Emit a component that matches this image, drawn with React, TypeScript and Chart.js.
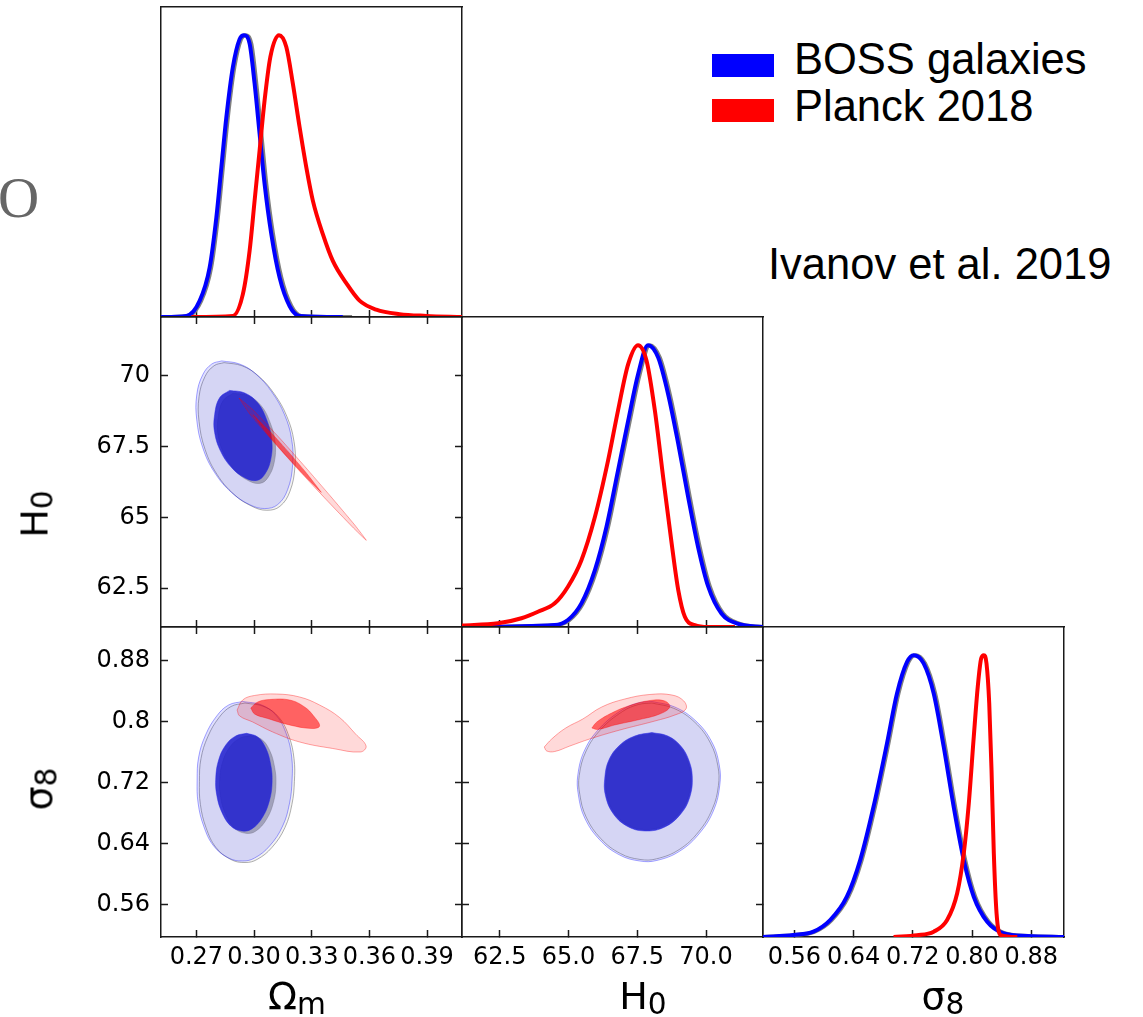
import React, { useEffect, useRef } from "react";
import { Chart, registerables } from "chart.js";

Chart.register(...registerables);

type Pt = [number, number];

// ---------- axis ranges & ticks ----------
const omRange: [number, number] = [0.2516, 0.4082];
const h0Range: [number, number] = [61.13, 72.07];
const s8Range: [number, number] = [0.5176, 0.9242];
const pdfRange: [number, number] = [0, 1.1];

const omTicks = [0.27, 0.3, 0.33, 0.36, 0.39];
const omTickLabels = ["0.27", "0.30", "0.33", "0.36", "0.39"];
const h0Ticks = [62.5, 65, 67.5, 70];
const h0TickLabelsX = ["62.5", "65.0", "67.5", "70.0"];
const h0TickLabelsY = ["62.5", "65", "67.5", "70"];
const s8Ticks = [0.56, 0.64, 0.72, 0.8, 0.88];
const s8TickLabelsX = ["0.56", "0.64", "0.72", "0.80", "0.88"];
const s8TickLabelsY = ["0.56", "0.64", "0.72", "0.8", "0.88"];

const seriesNames = ["BOSS galaxies", "Planck 2018"];

// ---------- 1D marginals ----------
const omGridBoss = [0.2516, 0.2648, 0.2717, 0.2769, 0.2804, 0.283, 0.2856, 0.289, 0.2925, 0.2948, 0.2977, 0.3003, 0.3029, 0.3055, 0.309, 0.3133, 0.3185, 0.3237, 0.3462];
const omPdfBoss = [0, 0.004, 0.057, 0.175, 0.353, 0.531, 0.709, 0.887, 0.986, 1.0, 0.97, 0.828, 0.65, 0.472, 0.294, 0.14, 0.039, 0.004, 0];
const omGridGray = [0.2516, 0.2655, 0.2725, 0.2777, 0.2812, 0.2838, 0.2864, 0.2898, 0.2933, 0.2956, 0.2986, 0.3012, 0.3038, 0.3064, 0.3099, 0.3142, 0.3194, 0.3246, 0.351];
const omPdfGray = [0, 0.004, 0.057, 0.175, 0.353, 0.531, 0.709, 0.887, 0.986, 1.0, 0.97, 0.828, 0.65, 0.472, 0.294, 0.14, 0.039, 0.004, 0];
const omGridPlanck = [0.2674, 0.289, 0.2942, 0.2977, 0.3003, 0.3029, 0.3055, 0.3085, 0.313, 0.3168, 0.3202, 0.3237, 0.3272, 0.3306, 0.3358, 0.341, 0.348, 0.3549, 0.3636, 0.3757, 0.3896, 0.4082];
const omPdfPlanck = [0, 0.004, 0.081, 0.235, 0.413, 0.591, 0.769, 0.923, 1.0, 0.958, 0.828, 0.674, 0.531, 0.413, 0.294, 0.199, 0.12, 0.058, 0.026, 0.01, 0.004, 0];

const h0GridBoss = [61.13, 64.5, 64.98, 65.47, 65.96, 66.38, 66.8, 67.17, 67.53, 67.89, 68.26, 68.62, 68.99, 69.35, 69.71, 70.08, 70.56, 71.17, 72.07];
const h0PdfBoss = [0, 0.007, 0.025, 0.084, 0.202, 0.355, 0.555, 0.732, 0.897, 1.0, 0.956, 0.827, 0.65, 0.461, 0.284, 0.143, 0.048, 0.011, 0];
const h0GridGray = [61.13, 64.56, 65.04, 65.53, 66.02, 66.44, 66.86, 67.23, 67.59, 67.95, 68.32, 68.68, 69.05, 69.41, 69.77, 70.14, 70.62, 71.23, 72.07];
const h0PdfGray = [0, 0.007, 0.025, 0.084, 0.202, 0.355, 0.555, 0.732, 0.897, 1.0, 0.956, 0.827, 0.65, 0.461, 0.284, 0.143, 0.048, 0.011, 0];
const h0GridPlanck = [61.13, 62.44, 63.29, 63.89, 64.5, 64.98, 65.47, 65.96, 66.44, 66.8, 67.17, 67.53, 67.84, 68.14, 68.44, 68.75, 68.99, 69.23, 69.59, 70.08, 71.05];
const h0PdfPlanck = [0.005, 0.013, 0.031, 0.054, 0.084, 0.143, 0.237, 0.39, 0.591, 0.768, 0.933, 1.0, 0.944, 0.768, 0.532, 0.296, 0.131, 0.036, 0.007, 0, 0];

const s8GridBoss = [0.5176, 0.5586, 0.5857, 0.6083, 0.6309, 0.6489, 0.6669, 0.6851, 0.6986, 0.7122, 0.7211, 0.7346, 0.7482, 0.7617, 0.7752, 0.7888, 0.8023, 0.8205, 0.8429, 0.8746, 0.9242];
const s8PdfBoss = [0, 0.007, 0.019, 0.06, 0.143, 0.273, 0.462, 0.687, 0.864, 0.976, 1.0, 0.971, 0.864, 0.675, 0.462, 0.273, 0.143, 0.054, 0.013, 0.004, 0];
const s8GridGray = [0.5176, 0.5606, 0.5877, 0.6103, 0.6329, 0.6509, 0.6689, 0.6871, 0.7006, 0.7142, 0.7231, 0.7366, 0.7502, 0.7637, 0.7772, 0.7908, 0.8043, 0.8225, 0.8449, 0.8766, 0.9242];
const s8PdfGray = [0, 0.007, 0.019, 0.06, 0.143, 0.273, 0.462, 0.687, 0.864, 0.976, 1.0, 0.971, 0.864, 0.675, 0.462, 0.273, 0.143, 0.054, 0.013, 0.004, 0];
const s8GridPlanck = [0.694, 0.7257, 0.7482, 0.7663, 0.7799, 0.7888, 0.7956, 0.8023, 0.8077, 0.8123, 0.8159, 0.8195, 0.8232, 0.8263, 0.8294, 0.8331, 0.8385, 0.8611];
const s8PdfPlanck = [0, 0.006, 0.019, 0.06, 0.155, 0.297, 0.474, 0.71, 0.888, 0.988, 1.0, 0.971, 0.829, 0.592, 0.297, 0.084, 0.007, 0];

// ---------- 2D contours: Omega_m vs H0 ----------
const omH0BossOuter: Pt[] = [[0.2832, 70.52], [0.2925, 70.41], [0.3009, 70.06], [0.3092, 69.43], [0.3159, 68.62], [0.3196, 67.74], [0.3201, 66.86], [0.3175, 65.98], [0.3123, 65.45], [0.3055, 65.31], [0.2977, 65.45], [0.2884, 65.87], [0.2795, 66.58], [0.2733, 67.46], [0.2702, 68.44], [0.2702, 69.32], [0.2733, 70.03], [0.278, 70.41]];
const omH0GrayOuter: Pt[] = [[0.2844, 70.46], [0.2937, 70.35], [0.3021, 70.0], [0.3104, 69.37], [0.3171, 68.56], [0.3208, 67.68], [0.3213, 66.8], [0.3187, 65.92], [0.3135, 65.39], [0.3067, 65.25], [0.2989, 65.39], [0.2896, 65.81], [0.2807, 66.52], [0.2745, 67.4], [0.2714, 68.38], [0.2714, 69.26], [0.2745, 69.97], [0.2792, 70.35]];
const omH0BossInner: Pt[] = [[0.2873, 69.48], [0.2951, 69.39], [0.3019, 69.04], [0.3066, 68.44], [0.3092, 67.74], [0.3087, 67.04], [0.3055, 66.51], [0.3014, 66.3], [0.2951, 66.4], [0.2884, 66.75], [0.2827, 67.32], [0.2795, 67.99], [0.2795, 68.62], [0.2821, 69.22]];
const omH0GrayInner: Pt[] = [[0.2891, 69.38], [0.2969, 69.29], [0.3037, 68.94], [0.3084, 68.34], [0.311, 67.64], [0.3105, 66.94], [0.3073, 66.41], [0.3032, 66.2], [0.2969, 66.3], [0.2902, 66.65], [0.2845, 67.22], [0.2813, 67.89], [0.2813, 68.52], [0.2839, 69.12]];
const omH0PlanckOuter: Pt[] = [[0.2922, 69.21], [0.2998, 68.77], [0.3134, 67.79], [0.3266, 66.78], [0.3396, 65.76], [0.3524, 64.73], [0.3584, 64.19], [0.3512, 64.66], [0.3375, 65.63], [0.3239, 66.62], [0.3107, 67.62], [0.2978, 68.65]];
const omH0PlanckInner: Pt[] = [[0.2994, 68.62], [0.309, 67.98], [0.318, 67.3], [0.3267, 66.61], [0.335, 65.88], [0.3255, 66.53], [0.3164, 67.2], [0.3076, 67.89]];

// ---------- 2D contours: Omega_m vs sigma8 ----------
const omS8BossOuter: Pt[] = [[0.2941, 0.8265], [0.304, 0.8219], [0.3118, 0.8075], [0.317, 0.7826], [0.3196, 0.7537], [0.3198, 0.7235], [0.3185, 0.6934], [0.3149, 0.6632], [0.3081, 0.637], [0.3003, 0.6212], [0.2941, 0.6173], [0.2868, 0.6212], [0.279, 0.637], [0.2738, 0.6632], [0.2709, 0.6934], [0.2704, 0.7235], [0.2712, 0.7537], [0.2748, 0.7826], [0.2806, 0.8075], [0.2868, 0.8219]];
const omS8GrayOuter: Pt[] = [[0.2953, 0.8245], [0.3052, 0.8199], [0.313, 0.8055], [0.3182, 0.7806], [0.3208, 0.7517], [0.321, 0.7215], [0.3197, 0.6914], [0.3161, 0.6612], [0.3093, 0.635], [0.3015, 0.6192], [0.2953, 0.6153], [0.288, 0.6192], [0.2802, 0.635], [0.275, 0.6612], [0.2721, 0.6914], [0.2716, 0.7215], [0.2724, 0.7517], [0.276, 0.7806], [0.2818, 0.8055], [0.288, 0.8199]];
const omS8BossInner: Pt[] = [[0.2962, 0.7848], [0.3019, 0.7799], [0.3061, 0.7655], [0.3087, 0.7432], [0.3094, 0.7209], [0.3081, 0.6973], [0.3045, 0.675], [0.2988, 0.6593], [0.2936, 0.6567], [0.2879, 0.6632], [0.2832, 0.6816], [0.2806, 0.7039], [0.2801, 0.7262], [0.2816, 0.7498], [0.2853, 0.7694], [0.2905, 0.7812]];
const omS8GrayInner: Pt[] = [[0.2982, 0.7818], [0.3039, 0.7769], [0.3081, 0.7625], [0.3107, 0.7402], [0.3114, 0.7179], [0.3101, 0.6943], [0.3065, 0.672], [0.3008, 0.6563], [0.2956, 0.6537], [0.2899, 0.6602], [0.2852, 0.6786], [0.2826, 0.7009], [0.2821, 0.7232], [0.2836, 0.7468], [0.2873, 0.7664], [0.2925, 0.7782]];
const omS8PlanckOuter: Pt[] = [[0.2912, 0.8153], [0.2941, 0.8285], [0.3003, 0.8344], [0.3118, 0.8363], [0.3237, 0.8324], [0.3341, 0.8219], [0.3445, 0.8055], [0.3528, 0.7839], [0.3583, 0.7681], [0.3554, 0.7603], [0.3409, 0.7649], [0.3237, 0.7734], [0.3097, 0.7865], [0.2993, 0.7996], [0.2925, 0.8075]];
const omS8PlanckInner: Pt[] = [[0.2983, 0.818], [0.3019, 0.8258], [0.3081, 0.8291], [0.3185, 0.8285], [0.3263, 0.8193], [0.331, 0.8075], [0.3341, 0.7944], [0.33, 0.7911], [0.3185, 0.7957], [0.3071, 0.8042], [0.3003, 0.8101]];

// ---------- 2D contours: H0 vs sigma8 ----------
const h0S8BossOuter: Pt[] = [[68.03, 0.8265], [68.86, 0.8193], [69.63, 0.8009], [70.21, 0.7734], [70.48, 0.7432], [70.5, 0.717], [70.28, 0.6842], [69.77, 0.654], [69.05, 0.6304], [68.21, 0.618], [67.59, 0.6173], [66.86, 0.6252], [66.14, 0.6449], [65.59, 0.6737], [65.36, 0.7039], [65.34, 0.7301], [65.59, 0.7629], [66.14, 0.7917], [66.94, 0.8153], [67.52, 0.8245]];
const h0S8GrayOuter: Pt[] = [[68.03, 0.8245], [68.83, 0.8175], [69.59, 0.7993], [70.16, 0.772], [70.43, 0.742], [70.45, 0.7162], [70.23, 0.6856], [69.73, 0.6556], [69.02, 0.6322], [68.19, 0.62], [67.6, 0.6193], [66.89, 0.627], [66.18, 0.6465], [65.64, 0.6751], [65.41, 0.7049], [65.39, 0.7293], [65.64, 0.7615], [66.18, 0.7901], [66.97, 0.8135], [67.54, 0.8225]];
const h0S8BossInner: Pt[] = [[68.03, 0.7858], [68.61, 0.7812], [69.08, 0.7681], [69.37, 0.7498], [69.5, 0.7275], [69.41, 0.7012], [69.08, 0.679], [68.5, 0.6619], [67.77, 0.6567], [67.12, 0.6632], [66.61, 0.6803], [66.34, 0.7039], [66.32, 0.7262], [66.47, 0.7498], [66.87, 0.7694], [67.41, 0.7812]];
const h0S8GrayInner: Pt[] = [[68.02, 0.784], [68.58, 0.7796], [69.04, 0.7669], [69.32, 0.749], [69.45, 0.7273], [69.36, 0.702], [69.04, 0.6806], [68.47, 0.6637], [67.78, 0.6585], [67.15, 0.6648], [66.65, 0.6815], [66.39, 0.7045], [66.37, 0.7262], [66.51, 0.749], [66.9, 0.768], [67.43, 0.7796]];
const h0S8PlanckOuter: Pt[] = [[64.12, 0.7668], [64.39, 0.7773], [64.9, 0.7917], [65.52, 0.8035], [66.21, 0.8193], [67.05, 0.8298], [67.96, 0.8357], [68.76, 0.835], [69.19, 0.8272], [69.27, 0.8167], [68.87, 0.8088], [68.14, 0.8009], [66.87, 0.7891], [65.77, 0.7773], [65.05, 0.7681], [64.5, 0.7609], [64.21, 0.7616]];
const h0S8PlanckInner: Pt[] = [[65.85, 0.7917], [66.03, 0.7996], [66.57, 0.8114], [67.23, 0.8212], [67.96, 0.8278], [68.5, 0.8272], [68.68, 0.8193], [68.32, 0.8101], [67.59, 0.8029], [66.68, 0.7957], [66.07, 0.7898]];

// ---------- styling ----------
const FONT = "'DejaVu Sans', 'Noto Sans', sans-serif";
const SANS = "'Liberation Sans', Arial, sans-serif";
const INK = "#1a1a1a";
const BLUE = "#0000ff";
const RED = "#ff0000";
const GRAY = "#808080";
const LINE_W = 4;

const PANEL_W = 301;
const PANEL_H = 310;
const COL_LEFT = [161, 462, 763];
const ROW_TOP = [7, 317, 627];
const PAD = { l: 150, r: 12, t: 12, b: 50 };

type AxisOpts = { marks: boolean; labels: boolean; size: number; padding?: number };

function axis(position: string, range: [number, number], ticks: number[], labels: string[], o: AxisOpts) {
  const horizontal = position === "top" || position === "bottom";
  return {
    type: "linear",
    position,
    axis: horizontal ? "x" : "y",
    min: range[0],
    max: range[1],
    afterBuildTicks: (s: any) => {
      s.ticks = ticks.map((v) => ({ value: v }));
    },
    afterFit: (s: any) => {
      if (horizontal) s.height = o.size;
      else s.width = o.size;
      s.paddingLeft = 0;
      s.paddingRight = 0;
      s.paddingTop = 0;
      s.paddingBottom = 0;
    },
    grid: {
      display: true,
      drawOnChartArea: false,
      drawTicks: o.marks,
      tickLength: -7,
      tickWidth: 1.5,
      tickColor: INK,
      color: INK,
    },
    border: { display: true, color: INK, width: 1.5 },
    ticks: {
      display: o.labels,
      autoSkip: false,
      maxRotation: 0,
      minRotation: 0,
      padding: o.padding ?? 0,
      color: "#000",
      font: { family: FONT, size: 24 },
      callback: (_v: any, i: number) => labels[i] ?? "",
    },
  };
}

function curve(xs: number[], ys: number[], color: string, width: number) {
  return {
    data: xs.map((x, i) => ({ x, y: ys[i] })),
    borderColor: color,
    borderWidth: width,
    pointRadius: 0,
    fill: false,
    cubicInterpolationMode: "monotone",
    xAxisID: "x",
    yAxisID: "y",
  };
}

function region(pts: Pt[], fillColor: string, lineColor: string, tension = 0.4) {
  const closed = [...pts, pts[0]];
  return {
    data: closed.map(([x, y]) => ({ x, y })),
    backgroundColor: fillColor,
    borderColor: lineColor,
    borderWidth: 1,
    pointRadius: 0,
    fill: "shape",
    tension,
    xAxisID: "x",
    yAxisID: "y",
  };
}

const LBL_PAD_LEFT = 18;
const LBL_PAD_BOTTOM = 13;

function contours(
  bossOuter: Pt[], grayOuter: Pt[], bossInner: Pt[], grayInner: Pt[], planckOuter: Pt[], planckInner: Pt[], planckTension = 0.4
) {
  // first dataset is drawn on top
  return [
    region(planckInner, "rgba(255,0,0,0.55)", "rgba(255,0,0,0.35)", planckTension),
    region(planckOuter, "rgba(255,0,0,0.15)", "rgba(255,0,0,0.35)", planckTension),
    region(bossInner, "rgba(32,32,207,0.85)", "rgba(40,40,230,0.5)"),
    region(grayInner, "rgba(110,110,130,0.5)", "rgba(110,110,130,0.4)"),
    region(bossOuter, "rgba(0,0,255,0.12)", "rgba(0,0,255,0.35)"),
    region(grayOuter, "rgba(128,128,128,0.1)", "rgba(110,110,110,0.55)"),
  ];
}

type PanelDef = { col: number; row: number; scales: () => any; datasets: () => any[] };

const panels: PanelDef[] = [
  {
    col: 0, row: 0,
    scales: () => ({
      x: axis("bottom", omRange, omTicks, omTickLabels, { marks: true, labels: false, size: PAD.b }),
      x2: axis("top", omRange, [], [], { marks: false, labels: false, size: PAD.t }),
      y: axis("left", pdfRange, [], [], { marks: false, labels: false, size: PAD.l }),
      y2: axis("right", pdfRange, [], [], { marks: false, labels: false, size: PAD.r }),
    }),
    datasets: () => [
      curve(omGridPlanck, omPdfPlanck, RED, LINE_W),
      curve(omGridBoss, omPdfBoss, BLUE, LINE_W),
      curve(omGridGray, omPdfGray, GRAY, LINE_W),
    ],
  },
  {
    col: 0, row: 1,
    scales: () => ({
      x: axis("bottom", omRange, omTicks, omTickLabels, { marks: true, labels: false, size: PAD.b }),
      x2: axis("top", omRange, omTicks, omTickLabels, { marks: true, labels: false, size: PAD.t }),
      y: axis("left", h0Range, h0Ticks, h0TickLabelsY, { marks: true, labels: true, size: PAD.l, padding: LBL_PAD_LEFT }),
      y2: axis("right", h0Range, h0Ticks, h0TickLabelsY, { marks: true, labels: false, size: PAD.r }),
    }),
    datasets: () => contours(omH0BossOuter, omH0GrayOuter, omH0BossInner, omH0GrayInner, omH0PlanckOuter, omH0PlanckInner, 0.15),
  },
  {
    col: 1, row: 1,
    scales: () => ({
      x: axis("bottom", h0Range, h0Ticks, h0TickLabelsX, { marks: true, labels: false, size: PAD.b }),
      x2: axis("top", h0Range, [], [], { marks: false, labels: false, size: PAD.t }),
      y: axis("left", pdfRange, [], [], { marks: false, labels: false, size: PAD.l }),
      y2: axis("right", pdfRange, [], [], { marks: false, labels: false, size: PAD.r }),
    }),
    datasets: () => [
      curve(h0GridPlanck, h0PdfPlanck, RED, LINE_W),
      curve(h0GridBoss, h0PdfBoss, BLUE, LINE_W),
      curve(h0GridGray, h0PdfGray, GRAY, LINE_W),
    ],
  },
  {
    col: 0, row: 2,
    scales: () => ({
      x: axis("bottom", omRange, omTicks, omTickLabels, { marks: true, labels: true, size: PAD.b, padding: LBL_PAD_BOTTOM }),
      x2: axis("top", omRange, omTicks, omTickLabels, { marks: true, labels: false, size: PAD.t }),
      y: axis("left", s8Range, s8Ticks, s8TickLabelsY, { marks: true, labels: true, size: PAD.l, padding: LBL_PAD_LEFT }),
      y2: axis("right", s8Range, s8Ticks, s8TickLabelsY, { marks: true, labels: false, size: PAD.r }),
    }),
    datasets: () => contours(omS8BossOuter, omS8GrayOuter, omS8BossInner, omS8GrayInner, omS8PlanckOuter, omS8PlanckInner),
  },
  {
    col: 1, row: 2,
    scales: () => ({
      x: axis("bottom", h0Range, h0Ticks, h0TickLabelsX, { marks: true, labels: true, size: PAD.b, padding: LBL_PAD_BOTTOM }),
      x2: axis("top", h0Range, h0Ticks, h0TickLabelsX, { marks: true, labels: false, size: PAD.t }),
      y: axis("left", s8Range, s8Ticks, s8TickLabelsY, { marks: true, labels: false, size: PAD.l }),
      y2: axis("right", s8Range, s8Ticks, s8TickLabelsY, { marks: true, labels: false, size: PAD.r }),
    }),
    datasets: () => contours(h0S8BossOuter, h0S8GrayOuter, h0S8BossInner, h0S8GrayInner, h0S8PlanckOuter, h0S8PlanckInner),
  },
  {
    col: 2, row: 2,
    scales: () => ({
      x: axis("bottom", s8Range, s8Ticks, s8TickLabelsX, { marks: true, labels: true, size: PAD.b, padding: LBL_PAD_BOTTOM }),
      x2: axis("top", s8Range, [], [], { marks: false, labels: false, size: PAD.t }),
      y: axis("left", pdfRange, [], [], { marks: false, labels: false, size: PAD.l }),
      y2: axis("right", pdfRange, [], [], { marks: false, labels: false, size: PAD.r }),
    }),
    datasets: () => [
      curve(s8GridPlanck, s8PdfPlanck, RED, LINE_W),
      curve(s8GridBoss, s8PdfBoss, BLUE, LINE_W),
      curve(s8GridGray, s8PdfGray, GRAY, LINE_W),
    ],
  },
];

function Panel({ def }: { def: PanelDef }) {
  const ref = useRef<HTMLCanvasElement>(null);
  useEffect(() => {
    if (!ref.current) return;
    const chart = new Chart(ref.current, {
      type: "line",
      data: { datasets: def.datasets() as any },
      options: {
        responsive: false,
        maintainAspectRatio: false,
        animation: false,
        events: [],
        layout: { padding: 0 },
        plugins: { legend: { display: false }, tooltip: { enabled: false }, title: { display: false } },
        scales: def.scales(),
      } as any,
    });
    return () => chart.destroy();
  }, [def]);
  const cw = PAD.l + PANEL_W + PAD.r;
  const ch = PAD.t + PANEL_H + PAD.b;
  return (
    <canvas
      ref={ref}
      width={cw}
      height={ch}
      style={{ position: "absolute", left: COL_LEFT[def.col] - PAD.l, top: ROW_TOP[def.row] - PAD.t, width: cw, height: ch }}
    />
  );
}

const titleStyle: React.CSSProperties = {
  position: "absolute",
  fontFamily: FONT,
  fontSize: 38,
  lineHeight: "38px",
  color: "#000",
  whiteSpace: "nowrap",
};
const subStyle: React.CSSProperties = { fontSize: "0.78em", position: "relative", top: 5 };

function Sym({ base, sub }: { base: string; sub: string }) {
  return (
    <span>
      {base}
      <span style={subStyle}>{sub}</span>
    </span>
  );
}

const legendText: React.CSSProperties = {
  position: "absolute",
  fontFamily: SANS,
  fontSize: 43.5,
  lineHeight: "43.5px",
  whiteSpace: "nowrap",
  color: "#000",
};

export default function App() {
  return (
    <div style={{ position: "absolute", left: 0, top: 0, width: 1143, height: 1017, overflow: "hidden", background: "#fff" }}>
      {/* partially visible background text */}
      <div style={{ position: "absolute", left: -2, top: 169, fontFamily: "'Liberation Serif', serif", fontSize: 57, lineHeight: "57px", color: "#666" }}>O</div>

      {panels.map((p, i) => (
        <Panel key={i} def={p} />
      ))}

      {/* axis titles */}
      <div style={{ ...titleStyle, left: 297, top: 977, transform: "translateX(-50%)" }}><Sym base="Ω" sub="m" /></div>
      <div style={{ ...titleStyle, left: 643, top: 977, transform: "translateX(-50%)" }}><Sym base="H" sub="0" /></div>
      <div style={{ ...titleStyle, left: 943, top: 977, transform: "translateX(-50%)" }}><Sym base="σ" sub="8" /></div>
      <div style={{ ...titleStyle, left: 36, top: 514, transform: "translate(-50%, -50%) rotate(-90deg)" }}><Sym base="H" sub="0" /></div>
      <div style={{ ...titleStyle, left: 40, top: 789, transform: "translate(-50%, -50%) rotate(-90deg)" }}><Sym base="σ" sub="8" /></div>

      {/* legend */}
      <div style={{ position: "absolute", left: 712, top: 54, width: 62, height: 23, background: BLUE }} />
      <div style={{ position: "absolute", left: 712, top: 99, width: 62, height: 23, background: RED }} />
      <div style={{ ...legendText, left: 794, top: 38 }}>{seriesNames[0]}</div>
      <div style={{ ...legendText, left: 794, top: 85 }}>{seriesNames[1]}</div>
      <div style={{ ...legendText, left: 768, top: 243 }}>Ivanov et al. 2019</div>
    </div>
  );
}
